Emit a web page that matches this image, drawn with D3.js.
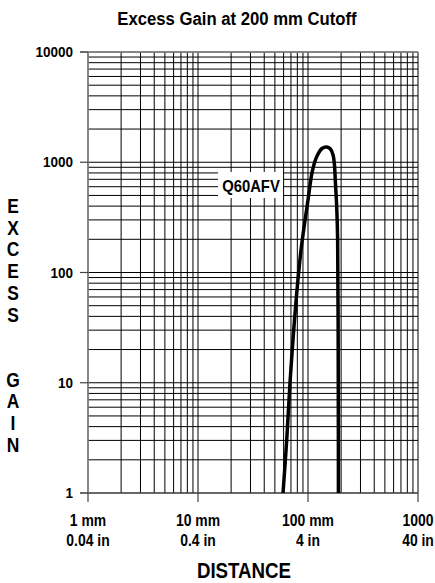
<!DOCTYPE html>
<html>
<head>
<meta charset="utf-8">
<script src="https://cdn.jsdelivr.net/npm/d3@7"></script>
<style>
body { margin: 0; background: #fff; }
text { font-family: "Liberation Sans", Arial, sans-serif; font-weight: bold; fill: #000; }
</style>
</head>
<body>
<script>
// data
var distMm = [59.3, 64, 68.6, 78, 86.4, 100, 110, 122, 134, 148, 160, 169, 174, 177, 182.4, 186, 188.4, 189]
var gain = [1, 3, 10, 56, 160, 455, 850, 1165, 1333, 1375, 1320, 1165, 950, 690, 393, 197, 10.6, 1]
var xTickVals = [1, 10, 100, 1000]
var xTickMm = ['1 mm', '10 mm', '100 mm', '1000']
var xTickIn = ['0.04 in', '0.4 in', '4 in', '40 in']
var yTickVals = [1, 10, 100, 1000, 10000]
var yTickLabels = ['1', '10', '100', '1000', '10000']
var seriesName = 'Q60AFV'
var yTitle = ['E', 'X', 'C', 'E', 'S', 'S', '', '', 'G', 'A', 'I', 'N']

var sx = 0.87 // text looks squeezed sideways

var svg = d3.select('body').append('svg')
	.attr('width', 435)
	.attr('height', 583)

var x = d3.scaleLog().domain([1, 1000]).range([88, 418])
var y = d3.scaleLog().domain([1, 10000]).range([493, 52])

function label(g, tx, ty, str, size, anchor) {
	return g.append('text')
		.attr('transform', 'translate(' + tx + ',' + ty + ') scale(' + sx + ',1)')
		.attr('text-anchor', anchor || 'middle')
		.style('font-size', size + 'px')
		.text(str)
}

// grid lines, 1..9 in every decade
var xGrid = []
for (var d = 1; d < 1000; d *= 10) for (var k = 1; k < 10; k++) xGrid.push(d * k)
xGrid.push(1000)
var yGrid = []
for (var d = 1; d < 10000; d *= 10) for (var k = 1; k < 10; k++) yGrid.push(d * k)
yGrid.push(10000)

var grid = svg.append('g')
grid.selectAll('.vg').data(xGrid).enter().append('line')
	.attr('x1', function(v) { return x(v) })
	.attr('x2', function(v) { return x(v) })
	.attr('y1', y(10000))
	.attr('y2', y(1))
	.attr('stroke', '#000')
	.attr('stroke-width', 1)
grid.selectAll('.hg').data(yGrid).enter().append('line')
	.attr('x1', x(1))
	.attr('x2', x(1000))
	.attr('y1', function(v) { return y(v) })
	.attr('y2', function(v) { return y(v) })
	.attr('stroke', '#000')
	.attr('stroke-width', 1)

// border lines in grey
svg.append('line').attr('x1', x(1)).attr('x2', x(1)).attr('y1', y(10000)).attr('y2', y(1))
	.attr('stroke', '#888').attr('stroke-width', 1.5)
svg.append('line').attr('x1', x(1) - 8).attr('x2', x(1000)).attr('y1', y(10000)).attr('y2', y(10000))
	.attr('stroke', '#888').attr('stroke-width', 1.5)
svg.append('line').attr('x1', x(1) - 8).attr('x2', x(1000)).attr('y1', y(1)).attr('y2', y(1))
	.attr('stroke', '#555').attr('stroke-width', 1.2)

// y ticks + labels
var yAxis = svg.append('g')
yAxis.selectAll('line').data(yTickVals).enter().append('line')
	.attr('x1', x(1) - 8).attr('x2', x(1))
	.attr('y1', function(v) { return y(v) }).attr('y2', function(v) { return y(v) })
	.attr('stroke', '#444').attr('stroke-width', 1.2)
yTickVals.forEach(function(v, i) {
	label(yAxis, 73, y(v) + 5, yTickLabels[i], 15.5, 'end')
})

// x ticks + labels
var xAxis = svg.append('g')
xAxis.selectAll('line').data(xTickVals).enter().append('line')
	.attr('x1', function(v) { return x(v) }).attr('x2', function(v) { return x(v) })
	.attr('y1', y(1)).attr('y2', y(1) + 9)
	.attr('stroke', '#444').attr('stroke-width', 1.2)
xTickVals.forEach(function(v, i) {
	label(xAxis, x(v), 526, xTickMm[i], 16)
	label(xAxis, x(v), 546, xTickIn[i], 16)
})

// titles
label(svg, 237, 25, 'Excess Gain at 200 mm Cutoff', 19.2)
label(svg, 244, 578, 'DISTANCE', 21.5)
yTitle.forEach(function(c, i) {
	if (c) label(svg, 13, 213 + i * 21.7, c, 20)
})

// curve
var pts = distMm.map(function(v, i) { return [v, gain[i]] })
var line = d3.line()
	.x(function(p) { return x(p[0]) })
	.y(function(p) { return y(p[1]) })
	.curve(d3.curveCatmullRom)
svg.append('path')
	.datum(pts)
	.attr('d', line)
	.attr('fill', 'none')
	.attr('stroke', '#000')
	.attr('stroke-width', 3.5)

// series label with white box
svg.append('rect')
	.attr('x', 218).attr('y', 172).attr('width', 65).attr('height', 26)
	.attr('fill', '#fff')
label(svg, 251, 192, seriesName, 17)
</script>
</body>
</html>
